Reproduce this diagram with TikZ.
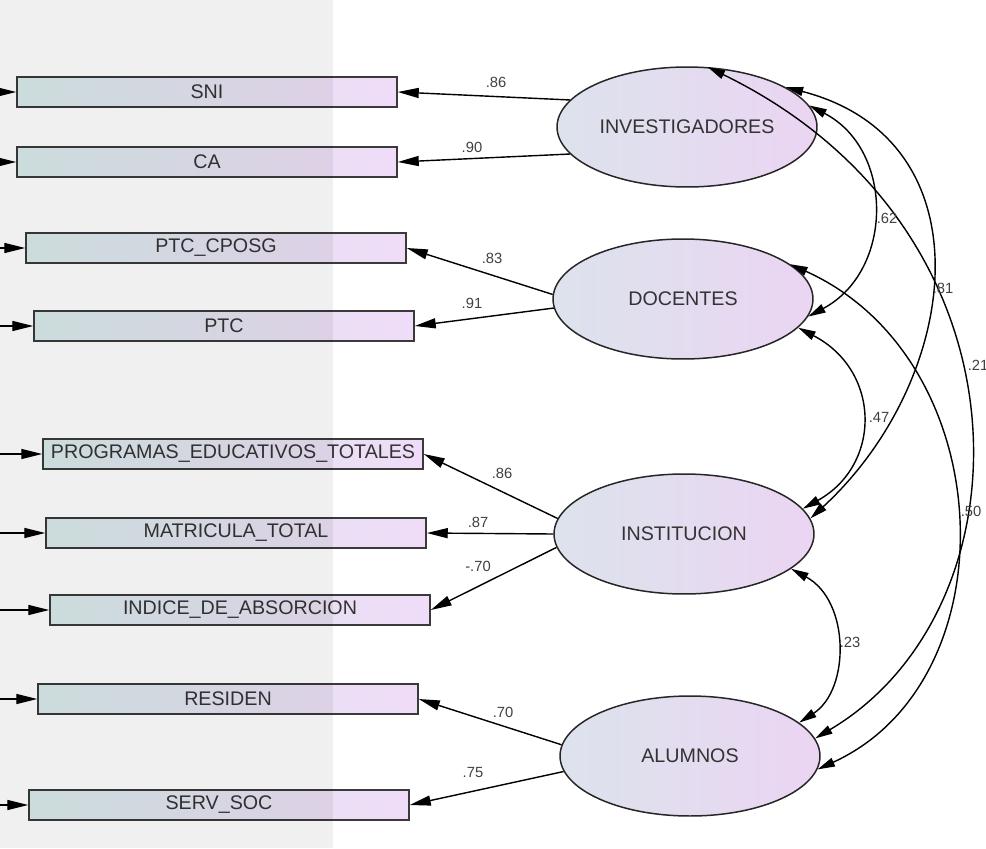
\documentclass[tikz,border=0pt]{standalone}
\usepackage{fontspec}
\setmainfont{Liberation Sans}
\usepackage{tikz}
\usetikzlibrary{arrows.meta,shapes.geometric}

\definecolor{boxleft}{HTML}{D8EAEA}
\definecolor{boxright}{HTML}{F0DCF8}
\definecolor{latleft}{HTML}{DCE3EC}
\definecolor{latright}{HTML}{EBD5F3}
\definecolor{edge}{HTML}{3A3A3A}

\tikzset{
  obs/.style={draw=edge, line width=0.9pt, left color=boxleft, right color=boxright,
    minimum width=7.6cm, minimum height=0.6cm, inner sep=1pt, text=black!80,
    font=\fontsize{11.2}{13}\selectfont},
  lat/.style={ellipse, draw=black!85, line width=0.85pt, left color=latleft, right color=latright,
    minimum width=5.2cm, minimum height=2.4cm, inner sep=0pt, text=black!80,
    font=\fontsize{11.2}{13}\selectfont},
  coef/.style={font=\fontsize{8.4}{10}\selectfont, text=black!75, inner sep=1pt},
  load/.style={-{Triangle[length=0.42cm,width=0.2cm]}, line width=0.8pt},
  cov/.style={{Triangle[length=0.35cm,width=0.18cm]}-{Triangle[length=0.35cm,width=0.18cm]}, line width=0.8pt},
}

\begin{document}
\begin{tikzpicture}[x=0.02cm, y=-0.02cm]
\useasboundingbox (0,0) rectangle (986,848);
\clip (0,0) rectangle (986,848);

% observed variables
\node[obs] (sni)  at (207,92)  {SNI};
\node[obs] (ca)   at (207,162) {CA};
\node[obs] (ptcc) at (216,248) {PTC\_CPOSG};
\node[obs] (ptc)  at (224,326) {PTC};
\node[obs] (prog) at (233,454) {PROGRAMAS\_EDUCATIVOS\_TOTALES};
\node[obs] (mat)  at (236,533) {MATRICULA\_TOTAL};
\node[obs] (ind)  at (240,610) {INDICE\_DE\_ABSORCION};
\node[obs] (res)  at (228,699) {RESIDEN};
\node[obs] (serv) at (219,805) {SERV\_SOC};

% latent variables
\node[lat] (inv) at (687,127) {INVESTIGADORES};
\node[lat] (doc) at (683,299) {DOCENTES};
\node[lat] (ins) at (684,534) {INSTITUCION};
\node[lat] (alu) at (690,756) {ALUMNOS};

% loadings
\draw[load] (inv.167) -- (sni.east);
\draw[load] (inv.193) -- (ca.east);
\draw[load] (doc.178) -- (ptcc.east);
\draw[load] (doc.184) -- (ptc.east);
\draw[load] (ins.173) -- (prog.east);
\draw[load] (ins.180) -- (mat.east);
\draw[load] (ins.186) -- (ind.east);
\draw[load] (alu.175) -- (res.east);
\draw[load] (alu.187) -- (serv.east);

% error terms (cut off at the left)
\foreach \v in {sni,ca,ptcc,ptc,prog,mat,ind,res,serv}{
\draw[load] ([xshift=-1.2cm]\v.west) -- (\v.west);
}

% covariances
\draw[cov] (doc.-8) .. controls +(86,-46) and +(85,44) .. (inv.10);
\draw[cov] (doc.-14) .. controls +(83,43) and +(79,-44) .. (ins.12);
\draw[cov] (inv.22) .. controls +(205,53) and +(151,-139) .. (ins.7);
\draw[cov] (inv.71) .. controls +(333,162) and +(218,-129) .. (alu.8);
\draw[cov] (doc.18) .. controls +(211,95) and +(195,-89) .. (alu.-6);
\draw[cov] (ins.-18) .. controls +(59,32) and +(51,-33) .. (alu.17);

% coefficients
\node[coef] (c1) at (496,82) {.86};
\node[coef] (c2) at (472,147) {.90};
\node[coef] (c3) at (492,258) {.83};
\node[coef] (c4) at (472,303) {.91};
\node[coef] (c5) at (502,473) {.86};
\node[coef] (c6) at (478,522) {.87};
\node[coef] (c7) at (478,566) {-.70};
\node[coef] (c8) at (503,712) {.70};
\node[coef] (c9) at (473,772) {.75};
\node[coef] (c10) at (887,218) {.62};
\node[coef] (c11) at (879,417) {.47};
\node[coef] (c12) at (943,288) {.81};
\node[coef] (c13) at (978,365) {.21};
\node[coef] (c14) at (971,511) {.50};
\node[coef] (c15) at (850,642) {.23};

% grey panel over the left part
\fill[black, fill opacity=0.06] (0,0) rectangle (333,848);
\end{tikzpicture}
\end{document}
